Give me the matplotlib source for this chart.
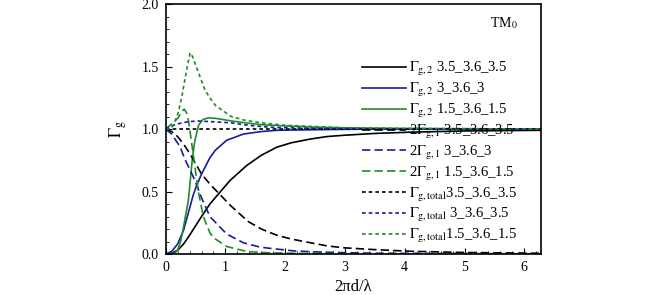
import numpy as np
import matplotlib
matplotlib.use("Agg")
import matplotlib.pyplot as plt
from matplotlib.ticker import MultipleLocator

plt.rcParams['font.family'] = ['Liberation Serif', 'DejaVu Serif']
plt.rcParams['mathtext.fontset'] = 'stix'

# Gamma_g,2 (solid) for the three structures
x_g2_35 = [0, 0.1, 0.2, 0.3, 0.4, 0.52, 0.6, 0.74, 0.9, 1.08, 1.36, 1.6, 1.86, 2.1, 2.42, 2.7, 2.97, 3.5, 4.09, 5.0, 6.28]
y_g2_35 = [0, 0.005, 0.03, 0.08, 0.15, 0.24, 0.30, 0.40, 0.49, 0.59, 0.71, 0.79, 0.855, 0.89, 0.92, 0.94, 0.95, 0.965, 0.975, 0.985, 0.99]

x_g2_3 = [0, 0.1, 0.2, 0.3, 0.46, 0.52, 0.6, 0.74, 0.83, 1.02, 1.3, 1.6, 1.86, 2.5, 3.5, 6.28]
y_g2_3 = [0, 0.02, 0.08, 0.19, 0.47, 0.55, 0.64, 0.77, 0.83, 0.91, 0.96, 0.98, 0.99, 0.995, 1.0, 1.0]

x_g2_15 = [0, 0.1, 0.16, 0.2, 0.25, 0.3, 0.38, 0.45, 0.49, 0.55, 0.62, 0.71, 0.85, 1.1, 1.33, 1.6, 2.0, 2.5, 3.0, 4.0, 6.28]
y_g2_15 = [0, 0.0, 0.01, 0.03, 0.10, 0.22, 0.43, 0.78, 0.91, 1.03, 1.075, 1.09, 1.085, 1.065, 1.05, 1.035, 1.025, 1.015, 1.01, 1.005, 1.0]

# 2*Gamma_g,1 (dashed)
x_g1_35 = [0, 0.1, 0.2, 0.3, 0.41, 0.6, 0.74, 0.9, 1.08, 1.38, 1.6, 1.86, 2.1, 2.42, 2.7, 2.97, 3.5, 4.09, 5.0, 6.28]
y_g1_35 = [1.0, 0.98, 0.94, 0.88, 0.80, 0.64, 0.56, 0.48, 0.39, 0.26, 0.20, 0.15, 0.12, 0.09, 0.065, 0.05, 0.035, 0.022, 0.012, 0.006]

x_g1_3 = [0, 0.1, 0.24, 0.32, 0.46, 0.52, 0.6, 0.74, 1.02, 1.3, 1.58, 1.75, 2.14, 2.6, 3.5, 6.28]
y_g1_3 = [1.0, 0.96, 0.86, 0.76, 0.62, 0.55, 0.45, 0.30, 0.16, 0.09, 0.055, 0.045, 0.025, 0.015, 0.006, 0.001]

x_g1_15 = [0, 0.1, 0.21, 0.27, 0.31, 0.35, 0.38, 0.42, 0.46, 0.55, 0.63, 0.74, 0.8, 1.02, 1.36, 1.7, 2.2, 3.0, 6.28]
y_g1_15 = [1.0, 1.04, 1.09, 1.14, 1.16, 1.13, 1.07, 0.94, 0.80, 0.49, 0.30, 0.17, 0.13, 0.06, 0.02, 0.01, 0.005, 0.002, 0.0]

# Gamma_g,total (dotted)
x_tot_35 = [0, 6.28]
y_tot_35 = [1.0, 1.0]

x_tot_3 = [0, 0.1, 0.27, 0.4, 0.55, 0.74, 1.1, 1.3, 1.6, 1.86, 2.5, 3.5, 6.28]
y_tot_3 = [1.0, 1.025, 1.05, 1.06, 1.064, 1.06, 1.05, 1.035, 1.02, 1.012, 1.005, 1.0, 1.0]

x_tot_15 = [0, 0.07, 0.13, 0.21, 0.27, 0.32, 0.37, 0.41, 0.45, 0.55, 0.66, 0.74, 0.83, 1.1, 1.33, 1.6, 2.0, 2.5, 3.0, 4.0, 6.28]
y_tot_15 = [1.0, 1.0, 1.03, 1.13, 1.26, 1.39, 1.52, 1.61, 1.58, 1.45, 1.31, 1.25, 1.19, 1.10, 1.07, 1.05, 1.03, 1.02, 1.01, 1.005, 1.0]

labels = [
    r'$\Gamma_{\mathrm{g,2}}$ 3.5_3.6_3.5',
    r'$\Gamma_{\mathrm{g,2}}$ 3_3.6_3',
    r'$\Gamma_{\mathrm{g,2}}$ 1.5_3.6_1.5',
    r'2$\Gamma_{\mathrm{g,1}}$ 3.5_3.6_3.5',
    r'2$\Gamma_{\mathrm{g,1}}$ 3_3.6_3',
    r'2$\Gamma_{\mathrm{g,1}}$ 1.5_3.6_1.5',
    r'$\Gamma_{\mathrm{g,total}}$3.5_3.6_3.5',
    r'$\Gamma_{\mathrm{g,total}}$ 3_3.6_3.5',
    r'$\Gamma_{\mathrm{g,total}}$1.5_3.6_1.5',
]

black = 'black'
blue = '#1a1a9e'
green = '#1f8c2a'
dash = (0, (5, 2.5))
dot = (0, (2.2, 1.8))

fig = plt.figure(figsize=(6.6, 2.95), dpi=100)
ax = fig.add_axes([0.251, 0.139, 0.569, 0.847])

lw = 1.2
ax.plot(x_g2_35, y_g2_35, color=black, lw=lw, label=labels[0])
ax.plot(x_g2_3, y_g2_3, color=blue, lw=lw, label=labels[1])
ax.plot(x_g2_15, y_g2_15, color=green, lw=lw, label=labels[2])
ax.plot(x_g1_35, y_g1_35, color=black, lw=lw, ls=dash, label=labels[3])
ax.plot(x_g1_3, y_g1_3, color=blue, lw=lw, ls=dash, label=labels[4])
ax.plot(x_g1_15, y_g1_15, color=green, lw=lw, ls=dash, label=labels[5])
ax.plot(x_tot_35, y_tot_35, color=black, lw=lw, ls=dot, label=labels[6])
ax.plot(x_tot_3, y_tot_3, color=blue, lw=lw, ls=dot, label=labels[7])
ax.plot(x_tot_15, y_tot_15, color=green, lw=lw, ls=dot, label=labels[8])

ax.set_xlim(0, 2 * np.pi)
ax.set_ylim(0, 2.0)
ax.xaxis.set_major_locator(MultipleLocator(1))
ax.xaxis.set_minor_locator(MultipleLocator(0.2))
ax.yaxis.set_major_locator(MultipleLocator(0.5))
ax.yaxis.set_minor_locator(MultipleLocator(0.1))
ax.yaxis.set_major_formatter(matplotlib.ticker.FormatStrFormatter('%.1f'))
ax.tick_params(which='both', direction='in', top=False, right=False, labelsize=10)
ax.tick_params(which='major', length=4, width=0.8, pad=5)
ax.tick_params(which='minor', length=2.5, width=0.6)
for s in ax.spines.values():
    s.set_linewidth(1.2)

ax.set_xlabel('2πd/λ', fontsize=12, labelpad=4)
ax.set_ylabel(r'$\Gamma_{\mathrm{g}}$', fontsize=12, labelpad=9)
ax.text(5.65, 1.85, r'TM$_0$', fontsize=10, ha='center', va='center')

ax.legend(loc='upper left', bbox_to_anchor=(362 / 660, 1 - 60 / 295), bbox_transform=fig.transFigure,
          frameon=False, fontsize=10.5, handlelength=3.0, handletextpad=0.25, labelspacing=0.2,
          borderpad=0, borderaxespad=0)

fig.savefig('out.png', dpi=100)
